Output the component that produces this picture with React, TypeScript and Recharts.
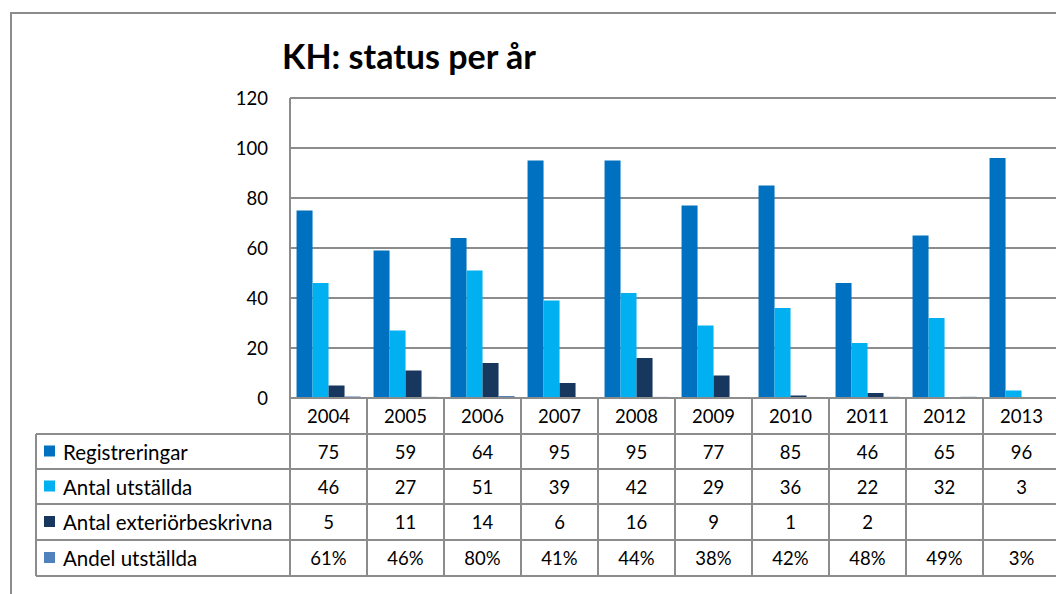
import { BarChart, Bar, XAxis, YAxis, CartesianGrid } from 'recharts'

const years = ['2004', '2005', '2006', '2007', '2008', '2009', '2010', '2011', '2012', '2013']
const registreringar = [75, 59, 64, 95, 95, 77, 85, 46, 65, 96]
const antalUtstallda = [46, 27, 51, 39, 42, 29, 36, 22, 32, 3]
const antalExterior = [5, 11, 14, 6, 16, 9, 1, 2, null, null]
const andelUtstallda = [0.61, 0.46, 0.8, 0.41, 0.44, 0.38, 0.42, 0.48, 0.49, 0.03]
const yTicks = [0, 20, 40, 60, 80, 100, 120]

const series = [
  { key: 'reg', name: 'Registreringar', color: '#0070C0', values: registreringar, pct: false },
  { key: 'utst', name: 'Antal utställda', color: '#00B0F0', values: antalUtstallda, pct: false },
  { key: 'ext', name: 'Antal exteriörbeskrivna', color: '#17375E', values: antalExterior, pct: false },
  { key: 'andel', name: 'Andel utställda', color: '#4F81BD', values: andelUtstallda, pct: true },
]

const data = years.map((year, i) => {
  const row: Record<string, any> = { year }
  series.forEach((s) => (row[s.key] = s.values[i]))
  return row
})

const W = 1070
const H = 594
const TOP = 98
const AXIS_W = 290
const RIGHT = 10
const BOTTOM = 398
const BAND = (W - RIGHT - AXIS_W) / years.length
const ROWS = [434, 469, 504, 540, 576]
const TABLE_LEFT = 36
const LINE = '#8c8c8c'
const FONT = 'Lato, "Open Sans", sans-serif'

const fmt = (v: number | null, pct: boolean) => {
  if (v == null) return ''
  return pct ? `${Math.round(v * 100)}%` : String(v)
}

const TableTick = (props: any) => {
  const { x, payload, index } = props
  const right = x + BAND / 2
  return (
    <g fontFamily={FONT} fontSize={18.5} fill="#000">
      {index === 0 && (
        <g>
          <line x1={AXIS_W} x2={AXIS_W} y1={BOTTOM} y2={ROWS[4]} stroke={LINE} strokeWidth={2} />
          <line x1={TABLE_LEFT} x2={TABLE_LEFT} y1={ROWS[0]} y2={ROWS[4]} stroke={LINE} strokeWidth={2} />
          {ROWS.map((y) => (
            <line key={y} x1={TABLE_LEFT} x2={W} y1={y} y2={y} stroke={LINE} strokeWidth={2} />
          ))}
          {series.map((s, r) => {
            const cy = (ROWS[r] + ROWS[r + 1]) / 2
            return (
              <g key={s.key}>
                <rect x={44} y={cy - 6} width={11} height={11} fill={s.color} />
                <text x={63} y={cy} fontSize={20.5} dominantBaseline="central">
                  {s.name}
                </text>
              </g>
            )
          })}
        </g>
      )}
      <line x1={right} x2={right} y1={BOTTOM} y2={ROWS[4]} stroke={LINE} strokeWidth={2} />
      <text x={x} y={(BOTTOM + ROWS[0]) / 2} textAnchor="middle" dominantBaseline="central">
        {payload.value}
      </text>
      {series.map((s, r) => (
        <text
          key={s.key}
          x={x}
          y={(ROWS[r] + ROWS[r + 1]) / 2}
          textAnchor="middle"
          dominantBaseline="central">
          {fmt(s.values[index], s.pct)}
        </text>
      ))}
    </g>
  )
}

const App = () => {
  return (
    <div style={{ position: 'absolute', left: 0, top: 0, width: 1056, height: 594, overflow: 'hidden', background: '#fff' }}>
      <div
        style={{
          position: 'absolute',
          left: 10,
          top: 12,
          width: 1100,
          height: 700,
          borderLeft: `2px solid ${LINE}`,
          borderTop: `2px solid ${LINE}`,
        }}
      />
      <div
        style={{
          position: 'absolute',
          left: 0,
          width: 818,
          top: 35,
          textAlign: 'center',
          fontFamily: FONT,
          fontWeight: 700,
          fontSize: 34,
          color: '#000',
        }}>
        KH: status per år
      </div>
      <div style={{ position: 'absolute', left: 0, top: 0 }}>
        <BarChart
          width={W}
          height={H}
          data={data}
          margin={{ top: TOP, right: RIGHT, bottom: 0, left: 0 }}
          barCategoryGap="8.5%"
          barGap={0}>
          <CartesianGrid vertical={false} stroke={LINE} strokeWidth={2} />
          <YAxis
            width={AXIS_W}
            domain={[0, 120]}
            ticks={yTicks}
            tickLine={false}
            tickMargin={16}
            axisLine={{ stroke: LINE, strokeWidth: 2 }}
            tick={{ fill: '#000', fontSize: 18.5, fontFamily: FONT }}
          />
          <XAxis
            dataKey="year"
            height={H - BOTTOM}
            interval={0}
            tickLine={false}
            axisLine={{ stroke: LINE, strokeWidth: 2 }}
            tick={<TableTick />}
          />
          {series.map((s) => (
            <Bar key={s.key} dataKey={s.key} name={s.name} fill={s.color} isAnimationActive={false} />
          ))}
        </BarChart>
      </div>
    </div>
  )
}

export default App
